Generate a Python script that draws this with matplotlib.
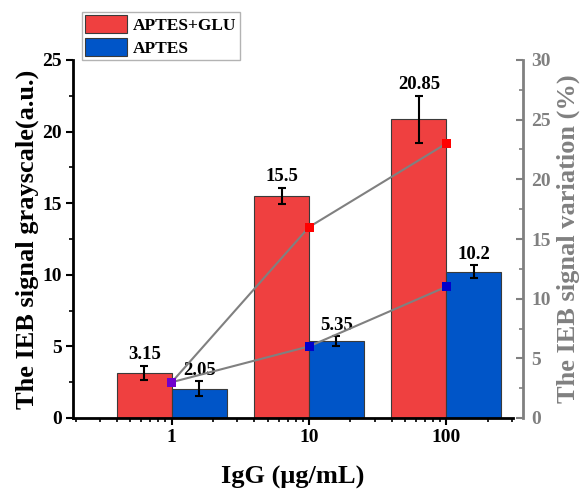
import numpy as np
import matplotlib
matplotlib.use("Agg")
import matplotlib.pyplot as plt
from matplotlib.ticker import LogLocator, NullFormatter, MultipleLocator, FixedLocator, FixedFormatter

plt.rcParams['font.family'] = ['Liberation Serif', 'DejaVu Serif']
plt.rcParams['font.weight'] = 'bold'

concentrations = [1, 10, 100]
tick_labels = ['1', '10', '100']
glu_values = [3.15, 15.5, 20.85]
glu_err = [0.5, 0.55, 1.65]
aptes_values = [2.05, 5.35, 10.2]
aptes_err = [0.5, 0.35, 0.45]
glu_variation = [3, 16, 23]
aptes_variation = [3, 6, 11]
series_names = ['APTES+GLU', 'APTES']

red = '#EF4040'
blue = '#0055C8'
grey = '#808080'

fig = plt.figure(figsize=(5.84, 4.91), dpi=100)
ax = fig.add_axes([73/584, 1-418/491, (513-73)/584, (418-60)/491])
ax.set_xscale('log')

logx = np.log10(concentrations)
half = 0.4
red_left = 10**(logx - half)
red_w = 10**logx - red_left
blue_left = 10**logx
blue_w = 10**(logx + half) - blue_left
red_c = 10**(logx - half/2)
blue_c = 10**(logx + half/2)

ax.bar(red_left, glu_values, width=red_w, align='edge', color=red, edgecolor='#3a3a3a',
       linewidth=0.8, label=series_names[0], zorder=2)
ax.bar(blue_left, aptes_values, width=blue_w, align='edge', color=blue, edgecolor='#3a3a3a',
       linewidth=0.8, label=series_names[1], zorder=2)
ax.errorbar(red_c, glu_values, yerr=glu_err, fmt='none', ecolor='black', elinewidth=1.5,
            capsize=2.8, capthick=1.5, zorder=3)
ax.errorbar(blue_c, aptes_values, yerr=aptes_err, fmt='none', ecolor='black', elinewidth=1.5,
            capsize=2.8, capthick=1.5, zorder=3)
for xc, v, e in zip(red_c, glu_values, glu_err):
    ax.annotate(f'{v:g}', (xc, v + e), xytext=(0, 2), textcoords='offset points',
                ha='center', va='bottom', fontsize=13.5, fontweight='bold')
for xc, v, e in zip(blue_c, aptes_values, aptes_err):
    ax.annotate(f'{v:g}', (xc, v + e), xytext=(0, 2), textcoords='offset points',
                ha='center', va='bottom', fontsize=13.5, fontweight='bold')

ax.set_xlim(0.191, 306)
ax.set_ylim(0, 25)
ax.xaxis.set_major_locator(FixedLocator(concentrations))
ax.xaxis.set_major_formatter(FixedFormatter(tick_labels))
ax.xaxis.set_minor_locator(LogLocator(base=10, subs=np.arange(2, 10)))
ax.xaxis.set_minor_formatter(NullFormatter())
ax.yaxis.set_major_locator(MultipleLocator(5))
ax.yaxis.set_minor_locator(MultipleLocator(2.5))
ax.tick_params(axis='both', which='major', direction='out', length=5, width=1.5,
               labelsize=14, pad=3)
ax.tick_params(axis='both', which='minor', direction='out', length=3, width=1.2)
for s in ['top', 'right']:
    ax.spines[s].set_visible(False)
for s in ['left', 'bottom']:
    ax.spines[s].set_linewidth(2)
ax.set_ylabel('The IEB signal grayscale(a.u.)', fontsize=19, fontweight='bold', labelpad=2)
ax.set_xlabel('IgG (μg/mL)', fontsize=19, fontweight='bold', labelpad=14)

ax2 = ax.twinx()
ax2.set_ylim(0, 30)
ax2.plot(concentrations, glu_variation, color=grey, lw=1.5, zorder=3)
ax2.plot(concentrations, aptes_variation, color=grey, lw=1.5, zorder=3)
glu_mk = ['#7000CC', '#FF0000', '#FF0000']
aptes_mk = ['#7000CC', '#0000CC', '#0000CC']
ax2.scatter(concentrations, glu_variation, marker='s', s=42, c=glu_mk, zorder=4, linewidths=0)
ax2.scatter(concentrations, aptes_variation, marker='s', s=42, c=aptes_mk, zorder=5, linewidths=0)
ax2.yaxis.set_major_locator(MultipleLocator(5))
ax2.yaxis.set_minor_locator(MultipleLocator(2.5))
for s in ['top', 'left', 'bottom']:
    ax2.spines[s].set_visible(False)
ax2.spines['right'].set_position(('outward', 7))
ax2.spines['right'].set_color(grey)
ax2.spines['right'].set_linewidth(2)
ax2.tick_params(axis='y', which='major', direction='in', length=5, width=1.5,
                colors=grey, labelsize=14, pad=6)
ax2.tick_params(axis='y', which='minor', direction='in', length=3, width=1.2, colors=grey)
ax2.set_ylabel('The IEB signal variation (%)', fontsize=19, fontweight='bold', color=grey,
               labelpad=4)

handles, labels = ax.get_legend_handles_labels()
leg = ax.legend(handles, labels, loc='upper left', bbox_to_anchor=(82/584, 1-12/491),
                bbox_transform=fig.transFigure, prop={'weight': 'bold', 'size': 12.5},
                frameon=True, fancybox=False, edgecolor='#a0a0a0', borderpad=0.2,
                labelspacing=0.25, handlelength=2.4, handleheight=1.15, handletextpad=0.35,
                borderaxespad=0)
leg.get_frame().set_linewidth(1.0)
leg.set_zorder(10)

fig.savefig('out.png', dpi=100)
